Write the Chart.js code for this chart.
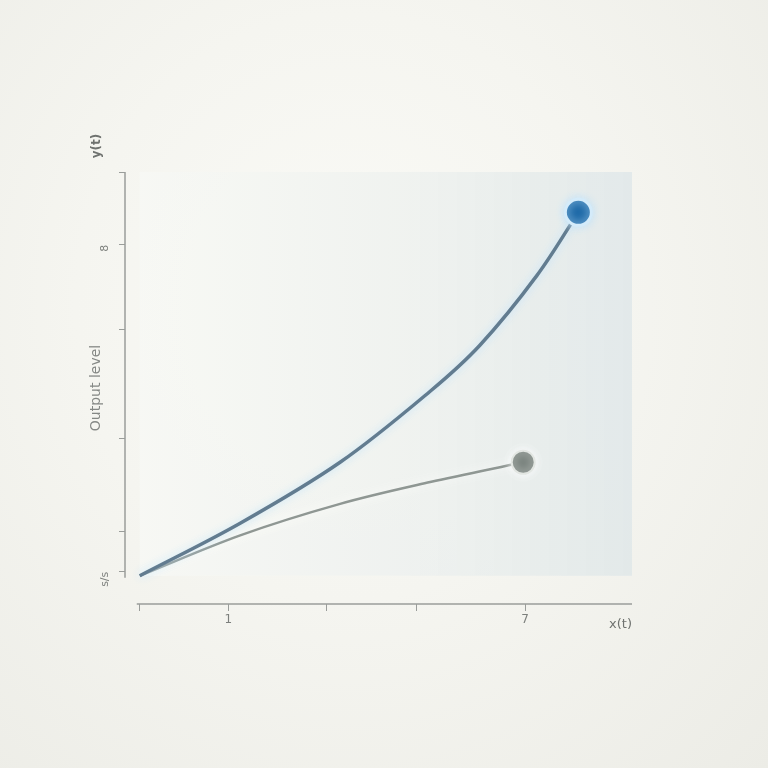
<!DOCTYPE html>
<html>
<head>
<meta charset="utf-8">
<script src="https://cdn.jsdelivr.net/npm/chart.js@4"></script>
<style>
    html, body { margin: 0; padding: 0; }
    body {
        width: 768px; height: 768px; overflow: hidden;
        background: radial-gradient(ellipse at 45% 40%, #fafaf6 0%, #f5f5f0 45%, #ecece6 100%);
    }
    #wrap { position: relative; width: 768px; height: 768px; }
</style>
</head>
<body>
<div id="wrap"><canvas id="growthChart" width="768" height="768"></canvas></div>
<script>
// =====================================================================
// Two growth curves from a common origin: a steep (blue) one and a
// flatter (gray) one, each ending in a marker.
// =====================================================================

// steep curve
const fastX = [0, 2.04, 4.07, 5.9, 6.91, 8.07, 8.91];
const fastY = [0, 1.3, 2.81, 4.57, 5.71, 7.44, 9.0];
// flat curve
const slowX = [0, 2.04, 4.07, 5.9, 7.79];
const slowY = [0, 1.0, 1.78, 2.32, 2.81];

// axis ticks as they sit in the picture
const yTickValues = [0.1, 1.1, 3.4, 6.1, 8.2, 10];
const yTickLabels = ["ѕ/ѕ", "", "", "", "8", ""];
const xTickValues = [0, 1.8, 3.8, 5.63, 7.83];
const xTickLabels = ["", "1", "", "", "7"];
const yTopLabel = "y(t)";
const yTitle = "Output level";
const xTitle = "x(t)";

(function () {
    const canvas = document.getElementById("growthChart");

    function pts(xs, ys) {
        return xs.map((x, i) => ({ x: x, y: ys[i] }));
    }
    // only the last point gets a visible marker
    function endRadius(n, r) {
        return Array.from({ length: n }, (_, i) => (i === n - 1 ? r : 0));
    }

    // shaded plot panel + custom axis lines that do not meet at the corner
    const panelPlugin = {
        id: "panel",
        beforeDatasetsDraw(chart) {
            const { ctx, chartArea, scales } = chart;
            const x0 = scales.x.getPixelForValue(0);
            const y0 = scales.y.getPixelForValue(0);
            const yTop = scales.y.getPixelForValue(10);
            ctx.save();
            const g = ctx.createLinearGradient(x0, 0, chartArea.right, 0);
            g.addColorStop(0, "rgba(247,248,244,0.9)");
            g.addColorStop(0.55, "rgba(238,241,239,0.9)");
            g.addColorStop(1, "rgba(225,232,233,0.95)");
            ctx.fillStyle = g;
            ctx.fillRect(x0, yTop, chartArea.right - x0, y0 - yTop);

            ctx.strokeStyle = "#9a9d9a";
            ctx.lineWidth = 1.5;
            ctx.beginPath();
            ctx.moveTo(chartArea.left, yTop);
            ctx.lineTo(chartArea.left, y0 + 2);
            ctx.moveTo(x0 - 3, chartArea.bottom);
            ctx.lineTo(chartArea.right, chartArea.bottom);
            ctx.stroke();

            // label above the y axis
            ctx.fillStyle = "#6f726f";
            ctx.font = "bold 12px 'DejaVu Sans'";
            ctx.translate(chartArea.left - 28, yTop - 26);
            ctx.rotate(-Math.PI / 2);
            ctx.textAlign = "center";
            ctx.textBaseline = "middle";
            ctx.fillText(yTopLabel, 0, 0);
            ctx.restore();
        },
        beforeDatasetDraw(chart, args) {
            const ctx = chart.ctx;
            ctx.save();
            ctx.shadowColor = args.index === 0 ? "rgba(190,225,250,0.95)" : "rgba(255,255,255,0.8)";
            ctx.shadowBlur = 8;
        },
        afterDatasetDraw(chart) {
            chart.ctx.restore();
        }
    };

    new Chart(canvas, {
        type: "scatter",
        data: {
            datasets: [
                {
                    label: "fast", data: pts(fastX, fastY), showLine: true,
                    borderColor: "#627c90", borderWidth: 3.5, tension: 0.35,
                    pointRadius: endRadius(fastX.length, 13),
                    pointBackgroundColor: "#1f6aa8",
                    pointBorderColor: "#d4ebfa", pointBorderWidth: 3,
                    clip: false
                },
                {
                    label: "slow", data: pts(slowX, slowY), showLine: true,
                    borderColor: "#8f9793", borderWidth: 2.5, tension: 0.35,
                    pointRadius: endRadius(slowX.length, 11.5),
                    pointBackgroundColor: "#7a837e",
                    pointBorderColor: "#e2e6e2", pointBorderWidth: 2,
                    clip: false
                }
            ]
        },
        options: {
            responsive: false, animation: false,
            layout: { padding: { left: 80, right: 136, top: 172, bottom: 136 } },
            plugins: { legend: { display: false }, tooltip: { enabled: false } },
            scales: {
                x: {
                    type: "linear", min: -0.3, max: 10,
                    border: { display: false },
                    grid: { drawOnChartArea: false, drawTicks: true, tickLength: 7, color: "#9a9d9a" },
                    afterBuildTicks: s => { s.ticks = xTickValues.map(v => ({ value: v })); },
                    afterFit: s => { s.height = 28; },
                    ticks: {
                        color: "#7c7f7c", padding: 2,
                        font: { family: "DejaVu Sans", size: 12 },
                        callback: (v, i) => xTickLabels[i]
                    },
                    title: {
                        display: true, text: xTitle, align: "end",
                        color: "#6f726f", padding: { top: 0, bottom: 0 },
                        font: { family: "DejaVu Sans", size: 13 }
                    }
                },
                y: {
                    type: "linear", min: -0.7, max: 10,
                    border: { display: false },
                    grid: { drawOnChartArea: false, drawTicks: true, tickLength: 6, color: "#9a9d9a" },
                    afterBuildTicks: s => { s.ticks = yTickValues.map(v => ({ value: v })); },
                    afterFit: s => { s.width = 45; },
                    ticks: {
                        color: "#7c7f7c", padding: 14, minRotation: 90, maxRotation: 90,
                        font: { family: "DejaVu Sans", size: 11 },
                        callback: (v, i) => yTickLabels[i]
                    },
                    title: {
                        display: true, text: yTitle,
                        color: "#858885", padding: { top: 8, bottom: 0 },
                        font: { family: "DejaVu Sans", size: 14 }
                    }
                }
            }
        },
        plugins: [panelPlugin]
    });
})();
</script>
</body>
</html>
